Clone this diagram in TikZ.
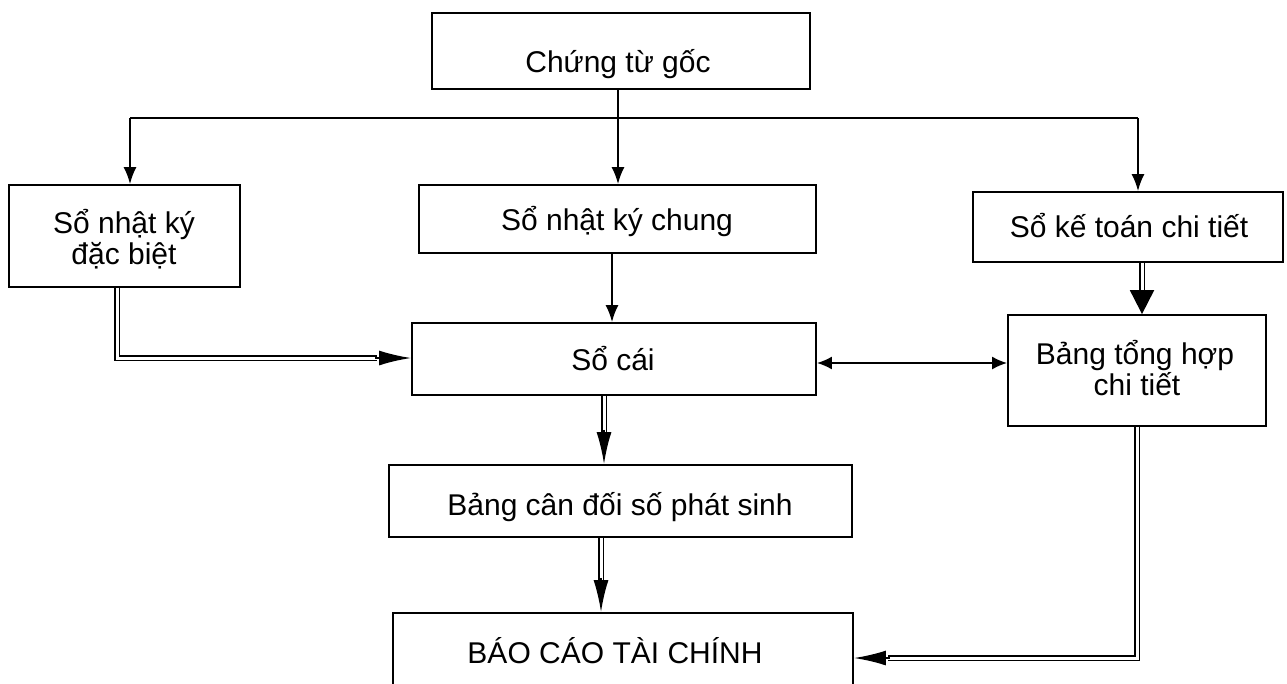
\documentclass[tikz,border=0pt]{standalone}
\usepackage{fontspec}
\setmainfont{Liberation Sans}
\usetikzlibrary{arrows.meta,calc}
\begin{document}
\begin{tikzpicture}[x=1pt,y=-1pt,
  box/.style={draw, line width=1.8pt, inner sep=0pt},
  txt/.style={anchor=base, inner sep=0pt, font=\fontsize{30}{33}\selectfont},
  plain/.style={line width=1.8pt},
  sarrow/.style={line width=1.8pt, -{Latex[length=17pt,width=13pt]}},
  sboth/.style={line width=1.8pt, {Latex[length=15pt,width=13pt]}-{Latex[length=15pt,width=13pt]}},
  dbl/.style={line width=1.8pt, double=white, double distance=3pt},
  dtip/.style={line width=2pt, -{Latex[length=32pt,width=15pt]}},
  ttip/.style={line width=2pt, -{Triangle[length=24pt,width=24pt]}}
]
\useasboundingbox (0,0) rectangle (1287,683);

% boxes
\node[box, minimum width=378pt, minimum height=76pt] (A) at (621,51) {};
\node[box, minimum width=231pt, minimum height=102pt] (B) at (124.5,236) {};
\node[box, minimum width=397pt, minimum height=68pt] (C) at (617.5,219) {};
\node[box, minimum width=310pt, minimum height=70pt] (D) at (1128,227) {};
\node[box, minimum width=404pt, minimum height=72pt] (E) at (614,359) {};
\node[box, minimum width=258pt, minimum height=111pt] (F) at (1137,370.5) {};
\node[box, minimum width=463pt, minimum height=72pt] (G) at (620.5,501) {};
\node[box, minimum width=460pt, minimum height=100pt] (H) at (623,663) {};

% texts
\node[txt] (At) at (618,72) {Chứng từ gốc};
\node[txt] (Bt1) at (124,233) {Sổ nhật ký};
\node[txt] (Bt2) at (124,264) {đặc biệt};
\node[txt] (Ct) at (617,230) {Sổ nhật ký chung};
\node[txt] (Dt) at (1129,237) {Sổ kế toán chi tiết};
\node[txt] (Et) at (613,370) {Sổ cái};
\node[txt] (Ft1) at (1135,364) {Bảng tổng hợp};
\node[txt] (Ft2) at (1137,395) {chi tiết};
\node[txt] (Gt) at (620,515) {Bảng cân đối số phát sinh};
\node[txt] (Ht) at (615,663) {BÁO CÁO TÀI CHÍNH};

% helper coordinates
\coordinate (L) at (130,118);
\coordinate (R) at (1138,118);
\coordinate (a1) at ($(A.south)+(-3,0)$);
\coordinate (c1) at ($(C.south)+(-5.5,0)$);
\coordinate (e1) at ($(E.east)+(0,4)$);
\coordinate (d1) at ($(D.south)+(14,0)$);
\coordinate (d2) at ($(D.south)+(14,30)$);
\coordinate (d3) at ($(D.south)+(14,28)$);
\coordinate (b1) at ($(B.south)+(-7.5,0)$);
\coordinate (b2) at ($(E.west)+(-34,-1)$);
\coordinate (b3) at ($(E.west)+(-36,-1)$);
\coordinate (b4) at ($(E.west)+(0,-1)$);
\coordinate (g1) at ($(E.south)+(-10,0)$);
\coordinate (g2) at ($(E.south)+(-10,36)$);
\coordinate (g3) at ($(E.south)+(-10,34)$);
\coordinate (h1) at ($(G.south)+(-19.5,0)$);
\coordinate (h2) at ($(G.south)+(-19.5,42)$);
\coordinate (h3) at ($(G.south)+(-19.5,40)$);
\coordinate (f2) at ($(H.east)+(34,-5)$);
\coordinate (f3) at ($(H.east)+(36,-5)$);
\coordinate (f4) at ($(H.east)+(0,-5)$);

% top distribution
\draw[plain] (L) -- (R);
\draw[sarrow] (a1) -- (a1 |- C.north);
\draw[sarrow] (L) -- (L |- B.north);
\draw[sarrow] (R) -- (R |- D.north);

% C -> E
\draw[sarrow] (c1) -- (c1 |- E.north);

% E <-> F
\draw[sboth] (e1) -- (e1 -| F.west);

% D => F
\draw[dbl] (d1) -- (d2);
\draw[ttip] (d3) -- (d3 |- F.north);

% B => E
\draw[dbl] (b1) |- (b2);
\draw[dtip] (b3) -- (b4);

% E => G
\draw[dbl] (g1) -- (g2);
\draw[dtip] (g3) -- (g3 |- G.north);

% G => H
\draw[dbl] (h1) -- (h2);
\draw[dtip] (h3) -- (h3 |- H.north);

% F => H
\draw[dbl] (F.south) |- (f2);
\draw[dtip] (f3) -- (f4);
\end{tikzpicture}
\end{document}
